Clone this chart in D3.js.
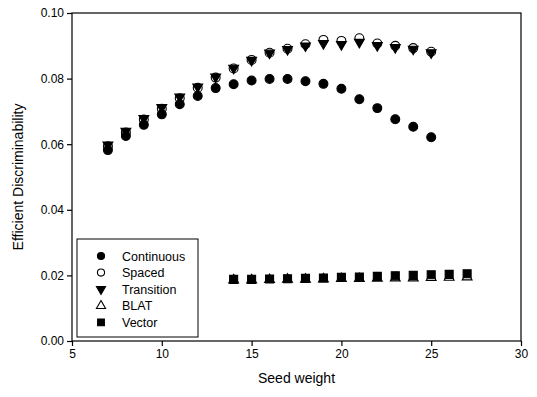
<!DOCTYPE html>
<html>
<head>
<meta charset="utf-8">
<style>
  body { margin: 0; background: #fff; }
  svg { font-family: "Liberation Sans", Arial, sans-serif; }
</style>
</head>
<body>
<svg width="537" height="397"></svg>
<script src="https://d3js.org/d3.v7.min.js"></script>
<script>

// seed weights for each group
var upperWeights = [7, 8, 9, 10, 11, 12, 13, 14, 15, 16, 17, 18, 19, 20, 21, 22, 23, 24, 25];
var lowerWeights = [14, 15, 16, 17, 18, 19, 20, 21, 22, 23, 24, 25, 26, 27];

var continuous = [0.0582, 0.0625, 0.0659, 0.0691, 0.0722, 0.0747, 0.0771, 0.0783, 0.0794, 0.0799,
                  0.0799, 0.0792, 0.0784, 0.0769, 0.0737, 0.0710, 0.0676, 0.0653, 0.0621];
var spaced     = [0.0594, 0.0636, 0.0675, 0.0708, 0.0740, 0.0772, 0.0803, 0.0831, 0.0857, 0.0879,
                  0.0891, 0.0905, 0.0918, 0.0915, 0.0923, 0.0907, 0.0900, 0.0893, 0.0882];
var transition = [0.0598, 0.0640, 0.0679, 0.0712, 0.0744, 0.0775, 0.0805, 0.0832, 0.0856, 0.0878,
                  0.0889, 0.0900, 0.0907, 0.0904, 0.0911, 0.0901, 0.0895, 0.0890, 0.0879];
var blat       = [0.0186, 0.0186, 0.0187, 0.0188, 0.0188, 0.0189, 0.0190, 0.0190, 0.0191, 0.0192,
                  0.0192, 0.0193, 0.0194, 0.0195];
var vector     = [0.0188, 0.0188, 0.0189, 0.0190, 0.0191, 0.0192, 0.0194, 0.0195, 0.0197, 0.0199,
                  0.0200, 0.0202, 0.0203, 0.0205];

var xTicks = [5, 10, 15, 20, 25, 30];
var yTicks = [0.00, 0.02, 0.04, 0.06, 0.08, 0.10];
var legendNames = ["Continuous", "Spaced", "Transition", "BLAT", "Vector"];

var svg = d3.select("svg");
var plot = { left: 72, right: 521, top: 13, bottom: 341 };

var x = d3.scaleLinear().domain([5, 30]).range([plot.left, plot.right]);
var y = d3.scaleLinear().domain([0, 0.10]).range([plot.bottom, plot.top]);

// frame
svg.append("rect")
    .attr("x", plot.left).attr("y", plot.top)
    .attr("width", plot.right - plot.left).attr("height", plot.bottom - plot.top)
    .attr("fill", "none").attr("stroke", "#000").attr("stroke-width", 1.2);

var xAxis = svg.append("g")
    .attr("transform", "translate(0," + plot.bottom + ")")
    .call(d3.axisBottom(x).tickValues(xTicks).tickSize(5).tickPadding(3).tickFormat(d3.format("d")));
var yAxis = svg.append("g")
    .attr("transform", "translate(" + plot.left + ",0)")
    .call(d3.axisLeft(y).tickValues(yTicks).tickSize(5).tickPadding(3).tickFormat(d3.format(".2f")));

[xAxis, yAxis].forEach(function(a) {
  a.select(".domain").remove();
  a.selectAll("line").attr("stroke", "#000").attr("stroke-width", 1.2);
  a.selectAll("text").attr("font-size", 12).attr("fill", "#000")
      .attr("font-family", "'Liberation Sans', Arial, sans-serif");
});

svg.append("text")
    .attr("x", (plot.left + plot.right) / 2).attr("y", 383)
    .attr("text-anchor", "middle").attr("font-size", 14)
    .text("Seed weight");

svg.append("text")
    .attr("transform", "translate(23," + ((plot.top + plot.bottom) / 2) + ") rotate(-90)")
    .attr("text-anchor", "middle").attr("font-size", 14)
    .text("Efficient Discriminability");

// marker shapes
var circle = d3.symbol().type(d3.symbolCircle).size(62);
var tri = d3.symbol().type(d3.symbolTriangle).size(42);
var square = d3.symbol().type(d3.symbolSquare).size(64);

var series = [
  { name: "Continuous", xs: upperWeights, ys: continuous, path: circle(), rot: 0, fill: "#000", key: d3.symbolCircle, ks: 40 },
  { name: "Spaced", xs: upperWeights, ys: spaced, path: circle(), rot: 0, fill: "#fff", key: d3.symbolCircle, ks: 40 },
  { name: "Transition", xs: upperWeights, ys: transition, path: tri(), rot: 180, fill: "#000", key: d3.symbolTriangle, ks: 36 },
  { name: "BLAT", xs: lowerWeights, ys: blat, path: tri(), rot: 0, fill: "#fff", key: d3.symbolTriangle, ks: 36 },
  { name: "Vector", xs: lowerWeights, ys: vector, path: square(), rot: 0, fill: "#000", key: d3.symbolSquare, ks: 46 }
];
function byName(n) { return series.find(function(d) { return d.name === n; }); }

// draw order so the filled markers sit on top
["BLAT", "Vector", "Spaced", "Transition", "Continuous"].forEach(function(n) {
  var s = byName(n);
  svg.append("g").selectAll("path")
      .data(s.xs.map(function(v, i) { return [v, s.ys[i]]; }))
      .enter().append("path")
      .attr("d", s.path)
      .attr("transform", function(d) {
        return "translate(" + x(d[0]) + "," + y(d[1]) + ") rotate(" + s.rot + ")";
      })
      .attr("fill", s.fill)
      .attr("stroke", "#000")
      .attr("stroke-width", 1.1);
});

// legend
var lg = svg.append("g");
lg.append("rect")
    .attr("x", 77).attr("y", 239).attr("width", 121).attr("height", 98)
    .attr("fill", "#fff").attr("stroke", "#000").attr("stroke-width", 1);

legendNames.forEach(function(n, i) {
  var s = byName(n);
  var yy = 256 + i * 16.6;
  lg.append("path")
      .attr("d", d3.symbol().type(s.key).size(s.ks)())
      .attr("transform", "translate(101," + yy + ") rotate(" + s.rot + ")")
      .attr("fill", s.fill).attr("stroke", "#000").attr("stroke-width", 1.1);
  lg.append("text")
      .attr("x", 122).attr("y", yy + 4.5)
      .attr("font-size", 12.5)
      .text(n);
});

</script>
</body>
</html>
